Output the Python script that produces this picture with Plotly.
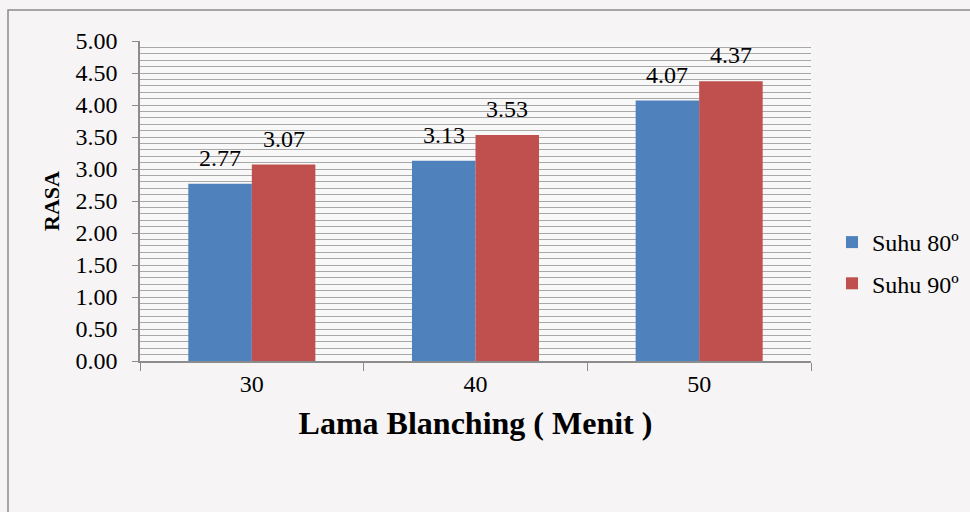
import plotly.graph_objects as go

categories = ["30", "40", "50"]
suhu80 = [2.77, 3.13, 4.07]
suhu90 = [3.07, 3.53, 4.37]
series_names = ["Suhu 80º", "Suhu 90º"]
y_ticks = [0, 0.5, 1.0, 1.5, 2.0, 2.5, 3.0, 3.5, 4.0, 4.5, 5.0]

FONT = "Liberation Serif"
BLUE = "#4F81BD"
RED = "#C0504D"

W, H = 970, 512
ML, MR, MT, MB = 140, 159, 41, 151
plot_w = W - ML - MR
bargap = 0.432
bar_w_px = plot_w / len(categories) * (1 - bargap) / 2

fig = go.Figure()
fig.add_trace(go.Bar(x=categories, y=suhu80, name=series_names[0], legendgroup="g80",
                     marker=dict(color=BLUE, line=dict(width=0))))
fig.add_trace(go.Bar(x=categories, y=suhu90, name=series_names[1], legendgroup="g90",
                     marker=dict(color=RED, line=dict(width=0))))

annotations = []
for vals, sgn in ((suhu80, -1), (suhu90, 1)):
    for i, v in enumerate(vals):
        annotations.append(dict(x=i, y=v, xref="x", yref="y", text=f"{v:.2f}",
                                showarrow=False, yanchor="bottom", xanchor="center",
                                xshift=sgn * bar_w_px / 2, yshift=11,
                                font=dict(family=FONT, size=24, color="#000")))

fig.update_layout(
    width=W, height=H,
    margin=dict(l=ML, r=MR, t=MT, b=MB, autoexpand=False),
    barmode="group", bargap=bargap, bargroupgap=0,
    paper_bgcolor="#f6f4f5", plot_bgcolor="rgba(255,255,255,0.35)",
    font=dict(family=FONT, size=24, color="#000"),
    showlegend=True,
    legend=dict(xref="container", yref="container", x=832 / W, y=(H - 263) / H,
                xanchor="left", yanchor="middle",
                font=dict(family=FONT, size=24, color="#000"),
                bgcolor="rgba(0,0,0,0)", itemsizing="constant",
                itemwidth=30, tracegroupgap=7),
    annotations=annotations,
    shapes=[dict(type="rect", xref="paper", yref="paper",
                 x0=(8 - ML) / plot_w, x1=1.4,
                 y0=-0.6, y1=1 + (MT - 10) / (H - MT - MB),
                 line=dict(color="#8a8a8a", width=1.5), fillcolor="rgba(0,0,0,0)",
                 layer="below")],
)

fig.update_xaxes(
    type="category", range=[-0.5, 2.5],
    showline=True, linecolor="#8c8c8c", linewidth=1.5,
    ticks="outside", tickson="boundaries", ticklen=8, tickcolor="#8c8c8c",
    showgrid=False, tickangle=0,
    tickfont=dict(family=FONT, size=24, color="#000"),
    title=dict(text="<b>Lama Blanching ( Menit )</b>",
               font=dict(family=FONT, size=32, color="#000"), standoff=16),
)
fig.update_yaxes(
    range=[0, 5], tickvals=y_ticks, ticktext=[f"{v:.2f}" for v in y_ticks],
    showline=True, linecolor="#8c8c8c", linewidth=1.5,
    ticks="outside", ticklen=6, tickcolor="#8c8c8c",
    showgrid=True, gridcolor="#a8a8a8", gridwidth=1,
    minor=dict(dtick=0.1, showgrid=True, gridcolor="#a8a8a8", gridwidth=1, ticks=""),
    tickfont=dict(family=FONT, size=24, color="#000"),
    ticklabelstandoff=10,
    zeroline=False,
    title=dict(text="<b>RASA</b>", font=dict(family=FONT, size=22, color="#000"),
               standoff=10),
)

fig.write_html("out.html")
